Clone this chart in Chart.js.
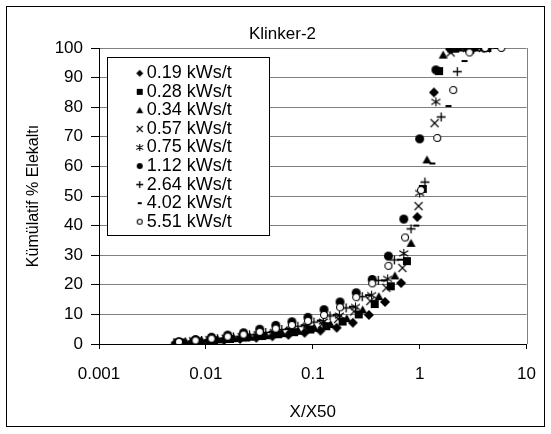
<!DOCTYPE html>
<html>
<head>
<meta charset="utf-8">
<title>Klinker-2</title>
<script src="https://cdn.jsdelivr.net/npm/chart.js@4.4.1/dist/chart.umd.min.js"></script>
<style>
  html, body { margin: 0; padding: 0; background: #fff; }
  canvas { display: block; }
</style>
</head>
<body>
<canvas id="chart" width="551" height="434"></canvas>
<script>
// --- data ---
const chartTitle = "Klinker-2";
const xTitle = "X/X50";
const yTitle = "Kümülatif % Elekaltı";
const xTickValues = [0.001, 0.01, 0.1, 1, 10];
const xTickLabels = ["0.001", "0.01", "0.1", "1", "10"];

const seriesLabels = ["0.19 kWs/t", "0.28 kWs/t", "0.34 kWs/t", "0.57 kWs/t", "0.75 kWs/t",
    "1.12 kWs/t", "2.64 kWs/t", "4.02 kWs/t", "5.51 kWs/t"];

const x019 = [0.0052, 0.0074, 0.0105, 0.0148, 0.0209, 0.0296, 0.0419, 0.0592, 0.0838, 0.118, 0.1675, 0.237, 0.335, 0.474, 0.67, 0.95, 1.36, 1.92, 2.72];
const y019 = [0.3, 0.6, 0.9, 1.3, 1.7, 2.1, 2.6, 3.1, 3.8, 4.5, 5.5, 7.2, 9.8, 14.2, 20.6, 42.9, 85.0, 99.6, 100];

const x028 = [0.0059, 0.0084, 0.0119, 0.0168, 0.0238, 0.0336, 0.0475, 0.067, 0.095, 0.134, 0.19, 0.269, 0.38, 0.537, 0.76, 1.07, 1.52, 2.15, 3.04, 4.3];
const y028 = [0.5, 0.9, 1.3, 1.7, 2.2, 2.7, 3.3, 4.0, 4.9, 6.0, 7.6, 10.0, 13.5, 19.5, 28.0, 52.4, 92.2, 99.8, 100, 100];

const x034 = [0.0065, 0.0092, 0.013, 0.0184, 0.026, 0.0367, 0.0519, 0.0734, 0.104, 0.147, 0.208, 0.293, 0.415, 0.587, 0.83, 1.17, 1.66, 2.35, 3.32];
const y034 = [0.6, 1.0, 1.4, 1.8, 2.3, 2.8, 3.5, 4.3, 5.3, 6.6, 8.6, 11.5, 16.0, 23.0, 34.0, 62.2, 97.6, 100, 100];

const x057 = [0.0054, 0.0076, 0.0108, 0.0153, 0.0216, 0.0305, 0.0431, 0.061, 0.0863, 0.122, 0.1725, 0.244, 0.345, 0.488, 0.69, 0.976, 1.38, 1.95, 2.76, 3.9];
const y057 = [0.5, 0.9, 1.3, 1.8, 2.3, 2.9, 3.6, 4.4, 5.4, 6.7, 8.5, 11.0, 14.5, 19.0, 25.7, 46.6, 74.6, 98.5, 100, 100];

const x075 = [0.0055, 0.0078, 0.0111, 0.0157, 0.0222, 0.0314, 0.0444, 0.0628, 0.0888, 0.1255, 0.1775, 0.251, 0.355, 0.502, 0.71, 1.0, 1.42, 2.0, 2.84, 4.0];
const y075 = [0.6, 1.0, 1.5, 2.0, 2.6, 3.3, 4.0, 5.0, 6.2, 7.6, 9.6, 12.5, 16.5, 22.0, 30.6, 51.0, 81.8, 99.5, 100, 100];

const x112 = [0.0056, 0.008, 0.0113, 0.016, 0.0225, 0.0319, 0.0451, 0.0638, 0.09, 0.1275, 0.18, 0.255, 0.36, 0.51, 0.71, 1.0, 1.42, 2.0, 2.83, 4.0];
const y112 = [0.8, 1.5, 2.3, 3.0, 3.8, 5.0, 6.3, 7.5, 9.0, 11.6, 14.2, 17.3, 21.8, 29.7, 42.2, 69.3, 92.6, 100, 100, 100];

const x264 = [0.0064, 0.0091, 0.0128, 0.0181, 0.0256, 0.0363, 0.0513, 0.0725, 0.1025, 0.145, 0.205, 0.29, 0.41, 0.58, 0.83, 1.12, 1.59, 2.25, 3.2, 4.5];
const y264 = [0.7, 1.2, 1.8, 2.4, 3.1, 3.9, 4.9, 6.0, 7.4, 9.5, 12.2, 16.0, 21.5, 28.4, 38.9, 54.7, 76.7, 92.0, 99.5, 100];

const x402 = [0.0051, 0.0073, 0.0103, 0.0145, 0.0206, 0.0291, 0.0411, 0.0582, 0.0822, 0.1163, 0.1645, 0.2326, 0.329, 0.465, 0.658, 0.93, 1.315, 1.86, 2.63, 3.72, 5.26];
const y402 = [0.5, 0.9, 1.4, 1.9, 2.5, 3.2, 4.1, 5.1, 6.3, 7.9, 9.9, 12.6, 16.5, 21.5, 28.5, 40.0, 61.0, 80.4, 95.6, 100, 100];

const x551 = [0.0056, 0.008, 0.0113, 0.016, 0.0225, 0.0319, 0.0451, 0.0638, 0.09, 0.1275, 0.18, 0.255, 0.36, 0.51, 0.73, 1.03, 1.46, 2.06, 2.92, 4.1, 5.8];
const y551 = [0.7, 1.2, 1.8, 2.5, 3.2, 4.1, 5.2, 6.4, 7.8, 9.8, 12.4, 15.8, 20.5, 26.4, 36.0, 52.0, 69.6, 85.8, 98.5, 100, 100];

const seriesX = [x019, x028, x034, x057, x075, x112, x264, x402, x551];
const seriesY = [y019, y028, y034, y057, y075, y112, y264, y402, y551];

// --- marker styles (Excel-like black markers) ---
const markerKinds = ["diamond", "square", "triangle", "x", "star", "circle", "plus", "dash", "ring"];
const plotSizes = [10, 8, 9, 8, 9, 9, 9, 6, 8];
const legendSizes = [7, 6, 7, 6, 7, 6, 7, 4, 6];

function makeMarker(kind, s, dx) {
    const c = document.createElement("canvas");
    c.width = s + 4 + Math.ceil(Math.abs(dx)) * 2;
    c.height = s + 4;
    const g = c.getContext("2d");
    const cx = c.width / 2 + dx;
    const cy = c.height / 2;
    const r = s / 2;
    g.fillStyle = "#000";
    g.strokeStyle = "#000";
    g.lineWidth = 1.1;
    g.beginPath();
    if (kind === "diamond") {
        g.moveTo(cx, cy - r);
        g.lineTo(cx + r, cy);
        g.lineTo(cx, cy + r);
        g.lineTo(cx - r, cy);
        g.closePath();
        g.fill();
    } else if (kind === "square") {
        g.fillRect(cx - r, cy - r, s, s);
    } else if (kind === "triangle") {
        g.moveTo(cx, cy - r);
        g.lineTo(cx + r, cy + r * 0.8);
        g.lineTo(cx - r, cy + r * 0.8);
        g.closePath();
        g.fill();
    } else if (kind === "x") {
        g.moveTo(cx - r, cy - r);
        g.lineTo(cx + r, cy + r);
        g.moveTo(cx + r, cy - r);
        g.lineTo(cx - r, cy + r);
        g.stroke();
    } else if (kind === "star") {
        g.moveTo(cx - r, cy - r * 0.6);
        g.lineTo(cx + r, cy + r * 0.6);
        g.moveTo(cx + r, cy - r * 0.6);
        g.lineTo(cx - r, cy + r * 0.6);
        g.moveTo(cx, cy - r);
        g.lineTo(cx, cy + r);
        g.stroke();
    } else if (kind === "circle") {
        g.arc(cx, cy, r, 0, Math.PI * 2);
        g.fill();
    } else if (kind === "plus") {
        g.moveTo(cx - r, cy);
        g.lineTo(cx + r, cy);
        g.moveTo(cx, cy - r);
        g.lineTo(cx, cy + r);
        g.lineWidth = 1.3;
        g.stroke();
    } else if (kind === "dash") {
        g.fillRect(cx - r, cy - 1, s, 2);
    } else if (kind === "ring") {
        g.arc(cx, cy, r - 0.5, 0, Math.PI * 2);
        g.fillStyle = "#fff";
        g.fill();
        g.stroke();
    }
    return c;
}

const plotMarkers = markerKinds.map((k, i) => makeMarker(k, plotSizes[i], 0));
const legendMarkers = markerKinds.map((k, i) => makeMarker(k, legendSizes[i], 3));

const datasets = seriesLabels.map((label, i) => ({
    label: label,
    data: seriesX[i].map((x, j) => ({ x: x, y: seriesY[i][j] })),
    pointStyle: plotMarkers[i],
    pointRadius: 4,
    showLine: false,
    order: -i,
}));

// legend box sits inside the plot area, offsets from chart area corner
const LEGEND_BOX = { dx: 8, dy: 9, w: 162, h: 178 };
const LEGEND_TEXT = { dx: 36.15, dy: 15.75 };

const framePlugin = {
    id: "frame",
    afterLayout(chart) {
        const lg = chart.legend;
        const area = chart.chartArea;
        lg.left = area.left + LEGEND_TEXT.dx;
        lg.top = area.top + LEGEND_TEXT.dy;
        lg.right = lg.left + lg.width;
        lg.bottom = area.bottom;
    },
    beforeDatasetsDraw(chart) {
        const ctx = chart.ctx;
        const a = chart.chartArea;
        ctx.save();
        ctx.strokeStyle = "#808080";
        ctx.lineWidth = 1;
        ctx.beginPath();
        ctx.moveTo(Math.round(a.right) + 0.5, a.top);
        ctx.lineTo(Math.round(a.right) + 0.5, a.bottom);
        ctx.stroke();
        ctx.restore();
    },
    afterDatasetsDraw(chart) {
        // white legend box over the grid, then the legend entries again on top
        const ctx = chart.ctx;
        const a = chart.chartArea;
        const x = Math.round(a.left + LEGEND_BOX.dx) + 0.5;
        const y = Math.round(a.top + LEGEND_BOX.dy) + 0.5;
        ctx.save();
        ctx.fillStyle = "#fff";
        ctx.fillRect(x, y, LEGEND_BOX.w, LEGEND_BOX.h);
        ctx.strokeStyle = "#000";
        ctx.lineWidth = 1;
        ctx.strokeRect(x, y, LEGEND_BOX.w, LEGEND_BOX.h);
        ctx.restore();
        chart.legend.draw(a);
    },
    afterDraw(chart) {
        const ctx = chart.ctx;
        ctx.save();
        ctx.strokeStyle = "#000";
        ctx.lineWidth = 1;
        ctx.strokeRect(6.5, 6.5, 538, 420);
        ctx.restore();
    },
};

Chart.defaults.font.family = "'Liberation Sans', Arial, sans-serif";
Chart.defaults.color = "#000";

new Chart(document.getElementById("chart"), {
    type: "scatter",
    data: { datasets: datasets },
    plugins: [framePlugin],
    options: {
        responsive: false,
        animation: false,
        events: [],
        layout: { padding: { left: 33, right: 19, top: 8, bottom: 8 } },
        plugins: {
            title: {
                display: true,
                text: chartTitle,
                font: { size: 17, weight: "normal" },
                color: "#000",
                padding: { top: 15.8, bottom: 3.8 },
            },
            legend: {
                display: true,
                position: "chartArea",
                align: "start",
                labels: {
                    usePointStyle: true,
                    pointStyleWidth: 2,
                    padding: 0.55,
                    color: "#000",
                    font: { size: 18 },
                    generateLabels: (chart) =>
                        chart.data.datasets.map((ds, i) => ({
                            text: ds.label,
                            pointStyle: legendMarkers[i],
                            datasetIndex: i,
                            hidden: false,
                            lineWidth: 0,
                            fillStyle: "#000",
                            strokeStyle: "#000",
                            fontColor: "#000",
                        })),
                },
            },
            tooltip: { enabled: false },
        },
        scales: {
            x: {
                type: "logarithmic",
                min: 0.001,
                max: 10,
                afterBuildTicks: (scale) => {
                    scale.ticks = xTickValues.map((v) => ({ value: v }));
                },
                afterFit: (scale) => {
                    scale.height = 82;
                },
                ticks: {
                    autoSkip: false,
                    maxRotation: 0,
                    padding: 15,
                    font: { size: 17 },
                    color: "#000",
                    callback: (v) => xTickLabels[xTickValues.indexOf(v)],
                },
                grid: {
                    drawOnChartArea: false,
                    drawTicks: true,
                    tickLength: 5,
                    color: "#000",
                },
                border: { display: true, color: "#000", width: 1 },
                title: {
                    display: true,
                    text: xTitle,
                    font: { size: 17 },
                    color: "#000",
                    padding: { top: 0, bottom: 3.8 },
                },
            },
            y: {
                type: "linear",
                min: 0,
                max: 100,
                afterFit: (scale) => {
                    scale.width = 66;
                },
                ticks: {
                    stepSize: 10,
                    padding: 8,
                    font: { size: 17 },
                    color: "#000",
                },
                grid: {
                    color: "#808080",
                    tickColor: "#000",
                    tickLength: 8,
                },
                border: { display: true, color: "#000", width: 1 },
                title: {
                    display: true,
                    text: yTitle,
                    font: { size: 16 },
                    color: "#000",
                    padding: { top: -8.6, bottom: 0 },
                },
            },
        },
    },
});
</script>
</body>
</html>
